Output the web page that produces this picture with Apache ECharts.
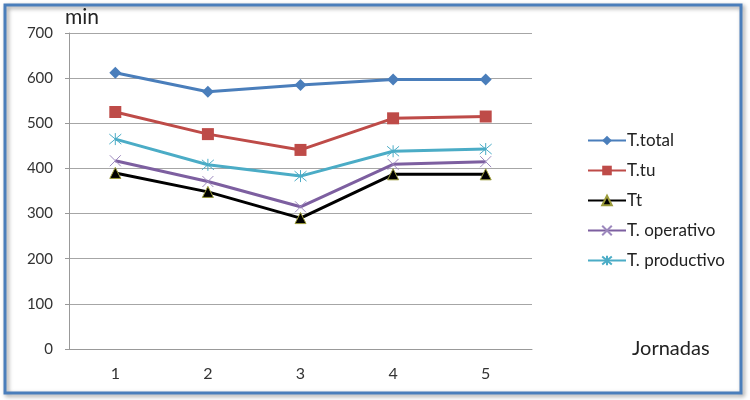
<!DOCTYPE html>
<html><head><meta charset="utf-8">
<script src="https://cdn.jsdelivr.net/npm/echarts@6/dist/echarts.min.js"></script>
<style>html,body{margin:0;padding:0;background:#fff}#c{width:750px;height:400px}</style>
</head><body><div id="c"></div>
<script>
const categories = ['1','2','3','4','5'];
const tTotal = [612, 570, 585, 597, 597];
const tTu = [525, 476, 441, 511, 515];
const tt = [390, 348, 290, 387, 387];
const tOperativo = [417, 371, 315, 409, 415];
const tProductivo = [465, 408, 383, 438, 443];
const yTicks = [0,100,200,300,400,500,600,700];

const F = 'Lato, "Open Sans", sans-serif';
const xPath = 'path://M0,0L10,10M10,0L0,10';
const starPath = 'path://M0,0L10,10M10,0L0,10M5,-1L5,11';
function s(name, data, color, symbol, size, extra) {
  return Object.assign({
    name, type:'line', data, symbol, symbolSize:size,
    lineStyle:{color, width:3}, itemStyle:{color},
    emphasis:{disabled:true}, animation:false
  }, extra||{});
}
const chart = echarts.init(document.getElementById('c'));
chart.setOption({
  animation:false,
  graphic:[{type:'rect', shape:{x:5,y:5,width:736,height:388},
    style:{fill:'none', stroke:'#4a7ebb', lineWidth:3, shadowBlur:4, shadowColor:'rgba(0,0,0,0.4)', shadowOffsetX:2, shadowOffsetY:2}, z:-1}],
  grid:{left:69, right:218, top:33, bottom:51},
  legend:{orient:'vertical', left:582, top:127, itemGap:13, itemWidth:38, itemHeight:12,
    textStyle:{fontFamily:F, fontSize:17, color:'#222', padding:[0,0,0,-4]},
    data:['T.total','T.tu','Tt','T. operativo','T. productivo']},
  xAxis:{type:'category', data:categories, boundaryGap:true,
    name:'Jornadas', nameLocation:'end', nameGap:0,
    nameTextStyle:{fontFamily:F, fontSize:20, color:'#222', padding:[30,0,0,100]},
    axisLine:{lineStyle:{color:'#999'}}, axisTick:{length:5, lineStyle:{color:'#999'}},
    axisLabel:{fontFamily:F, fontSize:16, color:'#333', margin:17}},
  yAxis:{type:'value', min:0, max:700, interval:100,
    name:'min', nameLocation:'end', nameGap:5,
    nameTextStyle:{fontFamily:F, fontSize:21, color:'#222', align:'left', padding:[0,0,0,-4]},
    axisLine:{show:true, lineStyle:{color:'#999'}}, axisTick:{show:true, length:4, lineStyle:{color:'#999'}},
    splitLine:{lineStyle:{color:'#a6a6a6'}},
    axisLabel:{fontFamily:F, fontSize:15, color:'#333', margin:16,
      formatter:v=>yTicks.includes(v)?String(v):''}},
  series:[
    s('T.total', tTotal, '#4a7ebb', 'diamond', 12),
    s('T.tu', tTu, '#be4b48', 'rect', 12),
    s('Tt', tt, '#000000', 'triangle', 11, {itemStyle:{color:'#000', borderColor:'#9b9b3a', borderWidth:1}}),
    s('T. operativo', tOperativo, '#7d5fa0', xPath, 11, {itemStyle:{color:'#7d5fa0', borderColor:'#9c88bd', borderWidth:1}}),
    s('T. productivo', tProductivo, '#4bacc6', starPath, 12, {itemStyle:{color:'#4bacc6', borderColor:'#4bacc6', borderWidth:1}})
  ]
});
</script></body></html>
